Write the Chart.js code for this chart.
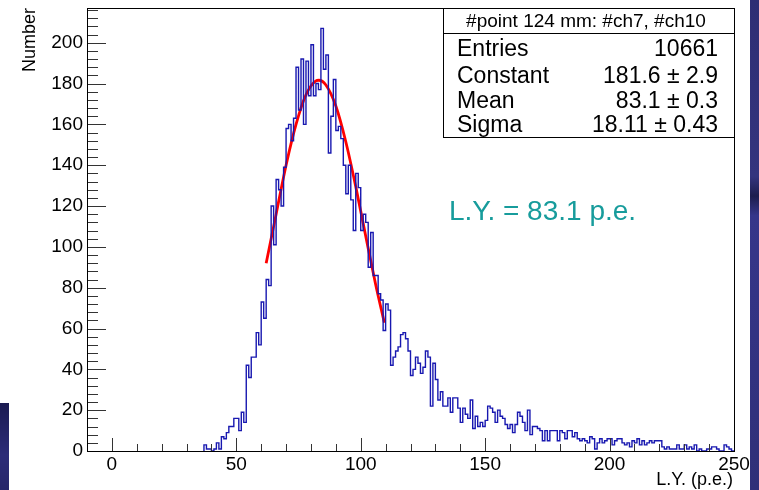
<!DOCTYPE html>
<html>
<head>
<meta charset="utf-8">
<script src="https://cdn.jsdelivr.net/npm/chart.js@4.4.1/dist/chart.umd.min.js"></script>
<style>
  html, body { margin: 0; padding: 0; background: #fff; }
  #wrap { position: relative; width: 759px; height: 490px; overflow: hidden; background: #fff; }
  #c { position: absolute; left: 0; top: 0; }
  .decoL { position: absolute; left: 0; top: 403px; width: 9px; height: 87px;
           background: linear-gradient(#1b1b52, #2c2c78 60%, #26266a); }
  .decoR { position: absolute; left: 750px; top: 0; width: 9px; height: 490px;
           background: linear-gradient(#2e2e74 0%, #34347e 36%, #1d1d4e 40%, #36368a 44%, #2f2f78 100%); }
</style>
</head>
<body>
<div id="wrap">
  <canvas id="c" width="759" height="490"></canvas>
  <div class="decoL"></div>
  <div class="decoR"></div>
</div>
<script>
// histogram: 1 p.e. bins, first bin starts at 37
const binLow = 37;
const counts = [
  3, 1, 1,
  0, 1, 4, 1, 7, 6, 9, 12, 12, 16,
  16, 10, 19, 14, 42, 36, 46, 46, 58, 52,
  73, 65, 84, 81, 120, 101, 133, 128, 120, 139,
  158, 160, 152, 163, 188, 167, 192, 160, 191, 174,
  199, 174, 180, 177, 207, 187, 194, 146, 164, 182,
  157, 159, 153, 140, 126, 140, 123, 108, 136, 129,
  108, 116, 112, 90, 107, 86, 86, 77, 74, 59,
  72, 69, 42, 46, 49, 51, 57, 58, 55, 49,
  37, 40, 46, 43, 38, 41, 49, 46, 22, 43,
  35, 25, 29, 22, 22, 26, 19, 26, 26, 21,
  14, 21, 18, 16, 25, 11, 17, 12, 14, 12,
  15, 22, 21, 19, 14, 20, 17, 16, 13, 11,
  13, 9, 13, 19, 17, 14, 10, 20, 8, 12,
  12, 11, 10, 5, 10, 5, 10, 10, 10, 5,
  10, 9, 6, 10, 10, 7, 9, 6, 5, 6,
  5, 4, 7, 6, 1, 4, 6, 4, 5, 6,
  6, 3, 5, 6, 6, 4, 3, 4, 2, 5,
  4, 6, 3, 5, 3, 4, 5, 4, 5, 5,
  5, 2, 1, 2, 1, 1, 1, 3, 1, 1,
  3, 1, 2, 1, 3, 0, 1, 0, 0, 1,
  1, 2, 2, 1, 0, 0, 3, 2, 1, 0
];

// gaussian fit curve
const fitX = [62, 66, 70, 74, 78, 82, 83.1, 86, 90, 94, 98, 102, 106, 109.5];
const fitY = [92, 116, 140, 160, 174.5, 181.3, 181.6, 179.3, 169, 151.5, 129.5, 105.3, 81.6, 62.8];

const xTicks = [0, 50, 100, 150, 200, 250];
const yTicks = [0, 20, 40, 60, 80, 100, 120, 140, 160, 180, 200];

const statTitle = '#point 124 mm: #ch7, #ch10';
const statNames = ['Entries', 'Constant', 'Mean', 'Sigma'];
const statValues = ['10661', '181.6 \u00b1 2.9', '83.1 \u00b1 0.3', '18.11 \u00b1 0.43'];
const lyLabel = 'L.Y. = 83.1 p.e.';

const FONT = "'Liberation Sans', Arial, Helvetica, sans-serif";

const histPts = [{ x: binLow, y: 0 }];
counts.forEach((c, i) => histPts.push({ x: binLow + i, y: c }));
histPts.push({ x: binLow + counts.length, y: 0 });

const fitPts = fitX.map((x, i) => ({ x: x, y: fitY[i] }));

const rootFrame = {
  id: 'rootFrame',
  afterDatasetsDraw(chart) {
    const { ctx, chartArea: a, scales: { x, y } } = chart;
    ctx.save();
    ctx.strokeStyle = '#333';
    ctx.lineWidth = 1;
    ctx.beginPath();
    for (let v = 0; v <= 216; v += 4) {
      const py = Math.round(y.getPixelForValue(v)) + 0.5;
      const len = v % 20 === 0 ? 19 : 11;
      ctx.moveTo(a.left, py);
      ctx.lineTo(a.left + len, py);
    }
    for (let v = 0; v <= 250; v += 10) {
      const px = Math.round(x.getPixelForValue(v)) + 0.5;
      const len = v % 50 === 0 ? 13 : 7;
      ctx.moveTo(px, a.bottom);
      ctx.lineTo(px, a.bottom - len);
    }
    ctx.stroke();
    ctx.strokeStyle = '#000';
    ctx.strokeRect(Math.round(a.left) + 0.5, Math.round(a.top) + 0.5,
                   Math.round(a.right - a.left), Math.round(a.bottom - a.top));
    ctx.restore();
  },
  afterDraw(chart) {
    const { ctx, chartArea: a } = chart;
    ctx.save();
    // y title
    ctx.fillStyle = '#000';
    ctx.font = '18px ' + FONT;
    ctx.save();
    ctx.translate(35, 8);
    ctx.rotate(-Math.PI / 2);
    ctx.textAlign = 'right';
    ctx.textBaseline = 'alphabetic';
    ctx.fillText('Number', 0, 0);
    ctx.restore();
    // x title
    ctx.textAlign = 'right';
    ctx.fillText('L.Y. (p.e.)', 733, 485);

    // stats box
    const bx = 443.5, by = Math.round(a.top) + 0.5, bw = Math.round(a.right) - 443, bh = 129;
    ctx.fillStyle = '#fff';
    ctx.fillRect(bx, by, bw, bh);
    ctx.strokeStyle = '#000';
    ctx.lineWidth = 1;
    ctx.strokeRect(bx, by, bw, bh);
    ctx.beginPath();
    ctx.moveTo(bx, 33.5);
    ctx.lineTo(bx + bw, 33.5);
    ctx.stroke();
    ctx.fillStyle = '#000';
    ctx.font = '19px ' + FONT;
    ctx.textAlign = 'center';
    ctx.fillText(statTitle, 586, 27);
    ctx.font = '23px ' + FONT;
    const rowY = [56, 83, 108, 132];
    statNames.forEach((n, i) => {
      ctx.textAlign = 'left';
      ctx.fillText(n, 457, rowY[i]);
      ctx.textAlign = 'right';
      ctx.fillText(statValues[i], 718, rowY[i]);
    });

    // light yield label
    ctx.fillStyle = '#179c9c';
    ctx.font = '28px ' + FONT;
    ctx.textAlign = 'left';
    ctx.fillText(lyLabel, 449, 220);
    ctx.restore();
  }
};

new Chart(document.getElementById('c'), {
  type: 'line',
  data: {
    datasets: [
      {
        data: histPts,
        stepped: 'before',
        borderColor: '#1818b0',
        borderWidth: 1.4,
        pointRadius: 0,
        fill: false
      },
      {
        data: fitPts,
        borderColor: '#ff0000',
        borderWidth: 2.8,
        pointRadius: 0,
        cubicInterpolationMode: 'monotone',
        fill: false
      }
    ]
  },
  options: {
    responsive: false,
    animation: false,
    devicePixelRatio: 1,
    layout: { padding: { top: 8, right: 25, left: 0, bottom: 0 } },
    plugins: { legend: { display: false }, tooltip: { enabled: false } },
    scales: {
      x: {
        type: 'linear',
        min: -10,
        max: 250,
        afterBuildTicks: s => { s.ticks = xTicks.map(v => ({ value: v })); },
        afterFit: s => { s.height = 39; s.paddingLeft = 0; s.paddingRight = 0; },
        grid: { display: false, drawTicks: false },
        border: { display: false },
        ticks: { color: '#000', font: { family: FONT, size: 19 }, padding: 2, maxRotation: 0, autoSkip: false }
      },
      y: {
        type: 'linear',
        min: 0,
        max: 217,
        afterBuildTicks: s => { s.ticks = yTicks.map(v => ({ value: v })); },
        afterFit: s => { s.width = 87; s.paddingTop = 0; s.paddingBottom = 0; },
        grid: { display: false, drawTicks: false },
        border: { display: false },
        ticks: { color: '#000', font: { family: FONT, size: 19 }, padding: 4, autoSkip: false }
      }
    }
  },
  plugins: [rootFrame]
});
</script>
</body>
</html>
